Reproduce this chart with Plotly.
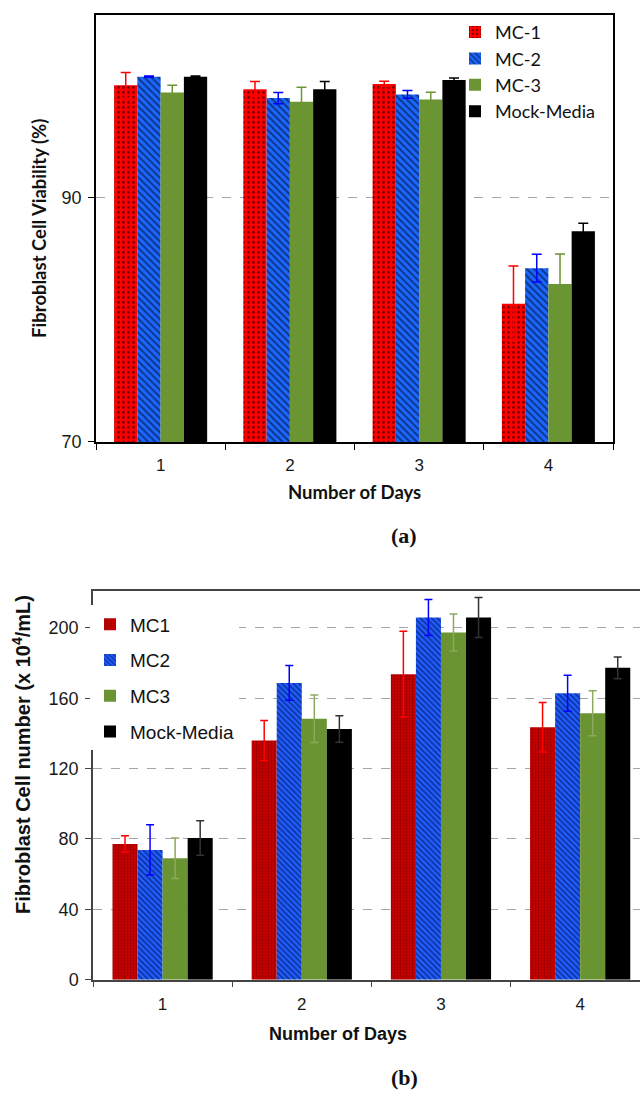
import plotly.graph_objects as go

days = ["1", "2", "3", "4"]

# (a) Fibroblast cell viability (%)
via_series = ["MC-1", "MC-2", "MC-3", "Mock-Media"]
via_mc1 = [99.15, 98.83, 99.26, 81.3]
via_mc1_err = [1.05, 0.62, 0.21, 3.08]
via_mc2 = [99.85, 98.1, 98.4, 84.2]
via_mc2_err = [0.05, 0.46, 0.32, 1.13]
via_mc3 = [98.56, 97.8, 97.99, 82.9]
via_mc3_err = [0.59, 1.19, 0.59, 2.46]
via_mock = [99.85, 98.83, 99.58, 87.22]
via_mock_err = [0.05, 0.62, 0.16, 0.65]

# (b) Fibroblast cell number (x 10^4/mL)
num_series = ["MC1", "MC2", "MC3", "Mock-Media"]
num_mc1 = [77.2, 136.0, 173.7, 143.5]
num_mc1_err = [4.7, 11.4, 24.4, 14.1]
num_mc2 = [73.8, 168.7, 205.9, 162.8]
num_mc2_err = [14.3, 9.9, 10.3, 10.2]
num_mc3 = [69.1, 148.4, 197.4, 151.5]
num_mc3_err = [11.5, 13.5, 10.5, 12.8]
num_mock = [80.6, 142.5, 205.9, 177.3]
num_mock_err = [9.8, 7.5, 11.4, 6.2]

top_styles = [
    dict(color="#ff0000", pattern=dict(shape=".", fgcolor="#000000", size=5, solidity=0.25), err="#ff0000"),
    dict(color="#1a66ff", pattern=dict(shape="\\", fgcolor="#000000", size=5, solidity=0.35), err="#0000ff"),
    dict(color="#6b9432", pattern=None, err="#6b9432"),
    dict(color="#000000", pattern=None, err="#000000"),
]
bot_styles = [
    dict(color="#d40000", pattern=dict(shape=".", fgcolor="#550000", size=3, solidity=0.45), err="#ff0000"),
    dict(color="#1f5fff", pattern=dict(shape="\\", fgcolor="#000033", size=4, solidity=0.4), err="#0000ff"),
    dict(color="#6a9432", pattern=None, err="#8aaa60"),
    dict(color="#000000", pattern=None, err="#333333"),
]

fig = go.Figure()

top_vals = [via_mc1, via_mc2, via_mc3, via_mock]
top_errs = [via_mc1_err, via_mc2_err, via_mc3_err, via_mock_err]
for i, (name, vals, errs, st) in enumerate(zip(via_series, top_vals, top_errs, top_styles)):
    marker = dict(color=st["color"], line=dict(width=0))
    if st["pattern"]:
        marker["pattern"] = st["pattern"]
    fig.add_trace(go.Bar(
        x=days, y=vals, name=name, marker=marker,
        error_y=dict(type="data", array=errs, color=st["err"], thickness=1.5, width=5),
        xaxis="x", yaxis="y", legend="legend", legendgroup="a" + str(i),
    ))

bot_vals = [num_mc1, num_mc2, num_mc3, num_mock]
bot_errs = [num_mc1_err, num_mc2_err, num_mc3_err, num_mock_err]
for i, (name, vals, errs, st) in enumerate(zip(num_series, bot_vals, bot_errs, bot_styles)):
    marker = dict(color=st["color"], line=dict(width=0))
    if st["pattern"]:
        marker["pattern"] = st["pattern"]
    fig.add_trace(go.Bar(
        x=days, y=vals, name=name, marker=marker,
        error_y=dict(type="data", array=errs, color=st["err"], thickness=1.5, width=4),
        xaxis="x2", yaxis="y2", legend="legend2", legendgroup="b" + str(i),
    ))

H = 1100.0
W = 640.0
def py(px):
    return 1 - px / H
def px_(x):
    return x / W

tick_font = dict(family="Liberation Sans, Arial", size=18, color="#1a1a1a")
xtick_font = dict(family="Liberation Sans, Arial", size=17, color="#1a1a1a")
fig.update_layout(
    width=640, height=1100,
    margin=dict(l=0, r=0, t=0, b=0),
    paper_bgcolor="white", plot_bgcolor="white",
    barmode="group", bargap=0.28, bargroupgap=0,
    showlegend=True,
    xaxis=dict(domain=[px_(96), px_(613)], anchor="y", type="category",
               range=[-0.5, 3.5], tickson="boundaries", ticks="outside", ticklen=6,
               tickcolor="#000", showline=True, linecolor="#000", linewidth=1.5,
               mirror=True, showgrid=False, tickfont=xtick_font, ticklabelstandoff=7),
    yaxis=dict(domain=[py(446), py(15)], anchor="x", range=[70, 104.9], dtick=20, tick0=70,
               ticks="outside", ticklen=6, tickcolor="#000", showline=True, linecolor="#000",
               linewidth=1.5, mirror=True, showgrid=True, gridcolor="#a6a6a6",
               griddash="dash", gridwidth=1, zeroline=False, tickfont=tick_font,
               ticklabelstandoff=3),
    xaxis2=dict(domain=[px_(93), 1.0], anchor="y2", type="category",
                range=[-0.5, 3.43], tickson="boundaries", ticks="outside", ticklen=6,
                tickcolor="#444", showline=True, linecolor="#444", linewidth=1.5,
                mirror=True, showgrid=False, tickfont=xtick_font, ticklabelstandoff=8),
    yaxis2=dict(domain=[py(988.7), py(596)], anchor="x2", range=[0, 221.2], dtick=40,
                ticks="outside", ticklen=6, tickcolor="#444", showline=True, linecolor="#444",
                linewidth=1.5, mirror=False, showgrid=True, gridcolor="#a6a6a6",
                griddash="dash", gridwidth=1, zeroline=False, tickfont=tick_font,
                ticklabelstandoff=3),
    legend=dict(x=px_(455), y=py(14), xanchor="left", yanchor="top", bgcolor="rgba(0,0,0,0)",
                font=dict(family="Lato, Open Sans", size=18, color="#111"),
                traceorder="grouped", tracegroupgap=0, itemwidth=30),
    legend2=dict(x=px_(90), y=py(611), xanchor="left", yanchor="top", bgcolor="white",
                 font=dict(family="Liberation Sans, Arial", size=19, color="#111"),
                 traceorder="grouped", tracegroupgap=8, itemwidth=30),
    annotations=[
        dict(text="<b>Fibroblast Cell Viability (%)</b>", x=px_(39), y=py(231), xref="paper", yref="paper",
             xanchor="center", yanchor="middle",
             textangle=-90, showarrow=False, font=dict(family="Lato, Open Sans", size=18.5, color="#111")),
        dict(text="<b>Number of Days</b>", x=px_(354), y=py(497), xref="paper", yref="paper",
             xanchor="center", yanchor="middle",
             showarrow=False, font=dict(family="Lato, Open Sans", size=18.5, color="#111")),
        dict(text="<b>(a)</b>", x=px_(404), y=py(540), xref="paper", yref="paper",
             xanchor="center", yanchor="middle",
             showarrow=False, font=dict(family="Liberation Serif, Times New Roman", size=22, color="#111")),
        dict(text="<b>Fibroblast Cell number (x 10<sup>4</sup>/mL)</b>", x=px_(21), y=py(762), xref="paper", yref="paper",
             xanchor="center", yanchor="middle",
             textangle=-90, showarrow=False, font=dict(family="Liberation Sans, Arial", size=20, color="#111")),
        dict(text="<b>Number of Days</b>", x=px_(338), y=py(1043), xref="paper", yref="paper",
             xanchor="center", yanchor="middle",
             showarrow=False, font=dict(family="Liberation Sans, Arial", size=18, color="#111")),
        dict(text="<b>(b)</b>", x=px_(404), y=py(1087), xref="paper", yref="paper",
             xanchor="center", yanchor="middle",
             showarrow=False, font=dict(family="Liberation Serif, Times New Roman", size=22, color="#111")),
    ],
)

fig.write_html("out.html", config={"displayModeBar": False},
               post_script="document.body.style.margin='0px';document.body.style.overflow='hidden';")
